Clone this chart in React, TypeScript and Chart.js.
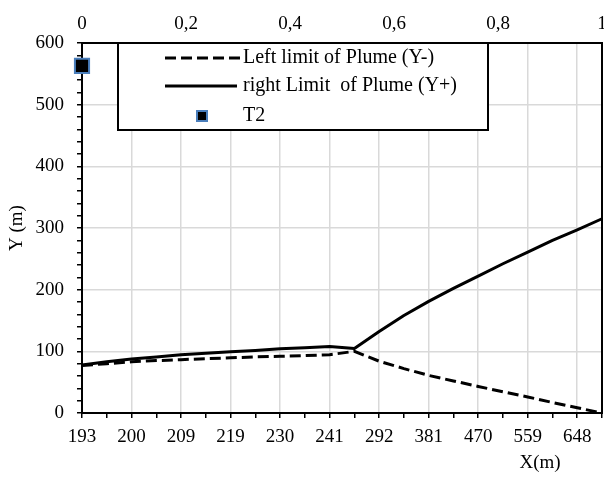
import React, { useEffect, useRef } from 'react';
import { Chart, registerables } from 'chart.js';

Chart.register(...registerables);

// ---- data ----
const X_CATEGORIES = ['193', '196', '200', '205', '209', '214', '219', '224', '230', '235', '241', '266', '292', '336', '381', '425', '470', '514', '559', '603', '648', '692'];
const LEFT_LIMIT = [77, 80, 83, 85, 86.5, 88, 89.5, 91, 92, 93, 94.5, 100, 84, 72, 61, 52, 43, 34.5, 26, 17, 8.5, 0];
const RIGHT_LIMIT = [78, 83, 87.5, 91, 94.5, 97, 99.5, 101.5, 104, 106, 108, 104.5, 132, 158, 181, 202, 222, 242, 261, 280, 297, 315];
const T2_X = [0];
const T2_Y = [563];
const SERIES_LABELS = ['Left limit of Plume (Y-)', 'right Limit  of Plume (Y+)', 'T2'];
const Y_MIN = 0;
const Y_MAX = 600;
const Y_MAJOR = 100;
const Y_MINOR = 20;
const TOP_MIN = 0;
const TOP_MAX = 1;
const TOP_STEP = 0.2;
const X_TITLE = 'X(m)';
const Y_TITLE = 'Y (m)';

const FONT = '"Liberation Serif", "Times New Roman", serif';
const GRID = '#d9d9d9';
const DASH = [11, 5];
const MARKER_FILL = '#000000';
const MARKER_EDGE = '#4a7ebb';

const boxLegend = {
  id: 'boxLegend',
  afterDraw(chart: any) {
    const { ctx, chartArea } = chart;
    const left = chartArea.left + 36;
    const top = chartArea.top;
    const w = 370;
    const h = 87;
    ctx.save();
    ctx.fillStyle = '#ffffff';
    ctx.fillRect(left, top, w, h);
    ctx.lineWidth = 2;
    ctx.strokeStyle = '#000';
    ctx.strokeRect(left, top, w, h);
    const rows = [top + 15, top + 43, top + 73];
    // dashed sample
    ctx.lineWidth = 3;
    ctx.setLineDash(DASH);
    ctx.beginPath();
    ctx.moveTo(left + 47, rows[0]);
    ctx.lineTo(left + 122, rows[0]);
    ctx.stroke();
    // solid sample
    ctx.setLineDash([]);
    ctx.beginPath();
    ctx.moveTo(left + 47, rows[1]);
    ctx.lineTo(left + 119, rows[1]);
    ctx.stroke();
    // marker sample
    ctx.fillStyle = MARKER_FILL;
    ctx.fillRect(left + 79, rows[2] - 5, 10, 10);
    ctx.lineWidth = 2;
    ctx.strokeStyle = MARKER_EDGE;
    ctx.strokeRect(left + 79, rows[2] - 5, 10, 10);
    // labels
    ctx.fillStyle = '#000';
    ctx.font = '20px ' + FONT;
    ctx.textBaseline = 'middle';
    ctx.textAlign = 'left';
    SERIES_LABELS.forEach((t, i) => ctx.fillText(t, left + 125, rows[i]));
    // x-axis title
    ctx.font = '19px ' + FONT;
    ctx.textAlign = 'center';
    ctx.fillText(X_TITLE, chartArea.right - 62, chartArea.bottom + 50);
    ctx.restore();
  },
};

export default function App() {
  const ref = useRef<HTMLCanvasElement | null>(null);

  useEffect(() => {
    if (!ref.current) return;
    Chart.defaults.font.family = FONT;
    Chart.defaults.font.size = 19;
    Chart.defaults.color = '#000';

    const chart = new Chart(ref.current, {
      type: 'line',
      data: {
        labels: X_CATEGORIES,
        datasets: [
          {
            label: SERIES_LABELS[0],
            data: LEFT_LIMIT,
            borderColor: '#000',
            borderWidth: 3,
            borderDash: DASH,
            pointRadius: 0,
            fill: false,
            tension: 0,
            xAxisID: 'x',
            yAxisID: 'y',
          },
          {
            label: SERIES_LABELS[1],
            data: RIGHT_LIMIT,
            borderColor: '#000',
            borderWidth: 3,
            pointRadius: 0,
            fill: false,
            tension: 0,
            borderJoinStyle: 'round',
            xAxisID: 'x',
            yAxisID: 'y',
          },
          {
            type: 'scatter',
            label: SERIES_LABELS[2],
            data: T2_X.map((x, i) => ({ x, y: T2_Y[i] })),
            pointStyle: 'rect',
            pointRadius: 10,
            pointBackgroundColor: MARKER_FILL,
            pointBorderColor: MARKER_EDGE,
            pointBorderWidth: 2,
            showLine: false,
            clip: false,
            xAxisID: 'x2',
            yAxisID: 'y',
          } as any,
        ],
      },
      options: {
        animation: false,
        responsive: false,
        layout: { padding: 0, autoPadding: false },
        plugins: {
          legend: { display: false },
          tooltip: { enabled: false },
        },
        scales: {
          x: {
            type: 'category',
            position: 'bottom',
            offset: false,
            grid: {
              color: (c: any) => (c.index % 2 === 0 && c.index !== 0 ? GRID : 'rgba(0,0,0,0)'),
              lineWidth: 1.5,
              tickColor: '#000',
              tickWidth: 1.5,
              tickLength: 5,
            },
            border: { display: true, color: '#000', width: 2 },
            ticks: {
              autoSkip: false,
              maxRotation: 0,
              minRotation: 0,
              padding: 8,
              callback: (_v: any, i: number) => (i % 2 === 0 ? X_CATEGORIES[i] : ''),
            },
            afterFit: (s: any) => {
              s.height = 64;
              s.paddingLeft = 0;
              s.paddingRight = 0;
            },
          },
          x2: {
            type: 'linear',
            position: 'top',
            min: TOP_MIN,
            max: TOP_MAX,
            grid: { display: false, drawTicks: false },
            border: { display: true, color: '#000', width: 2 },
            ticks: {
              stepSize: TOP_STEP,
              padding: 8,
              callback: (v: any) => Number(Number(v).toFixed(1)).toString().replace('.', ','),
            },
            afterFit: (s: any) => {
              s.height = 43;
              s.paddingLeft = 0;
              s.paddingRight = 0;
            },
          },
          y: {
            type: 'linear',
            position: 'left',
            min: Y_MIN,
            max: Y_MAX,
            grid: {
              color: (c: any) => {
                const v = c.tick ? c.tick.value : 0;
                return v % Y_MAJOR === 0 && v !== Y_MIN && v !== Y_MAX ? GRID : 'rgba(0,0,0,0)';
              },
              lineWidth: 1.5,
              tickColor: '#000',
              tickWidth: 1.5,
              tickLength: 5,
            },
            border: { display: true, color: '#000', width: 2 },
            ticks: {
              stepSize: Y_MINOR,
              autoSkip: false,
              padding: 13,
              callback: (v: any) => (Number(v) % Y_MAJOR === 0 ? String(v) : ''),
            },
            title: {
              display: true,
              text: Y_TITLE,
              font: { size: 19, family: FONT },
              padding: { top: 6, bottom: 0 },
            },
            afterFit: (s: any) => {
              s.width = 82;
            },
          },
          y2: {
            type: 'linear',
            position: 'right',
            min: Y_MIN,
            max: Y_MAX,
            grid: { display: false, drawTicks: false },
            border: { display: true, color: '#000', width: 2 },
            ticks: { display: false },
            afterFit: (s: any) => {
              s.width = 2;
            },
          },
        },
      } as any,
      plugins: [boxLegend],
    });
    return () => chart.destroy();
  }, []);

  return (
    <div style={{ position: 'absolute', left: 0, top: 0, width: 604, height: 477, background: '#fff' }}>
      <canvas ref={ref} width={604} height={477} style={{ display: 'block' }} />
    </div>
  );
}
